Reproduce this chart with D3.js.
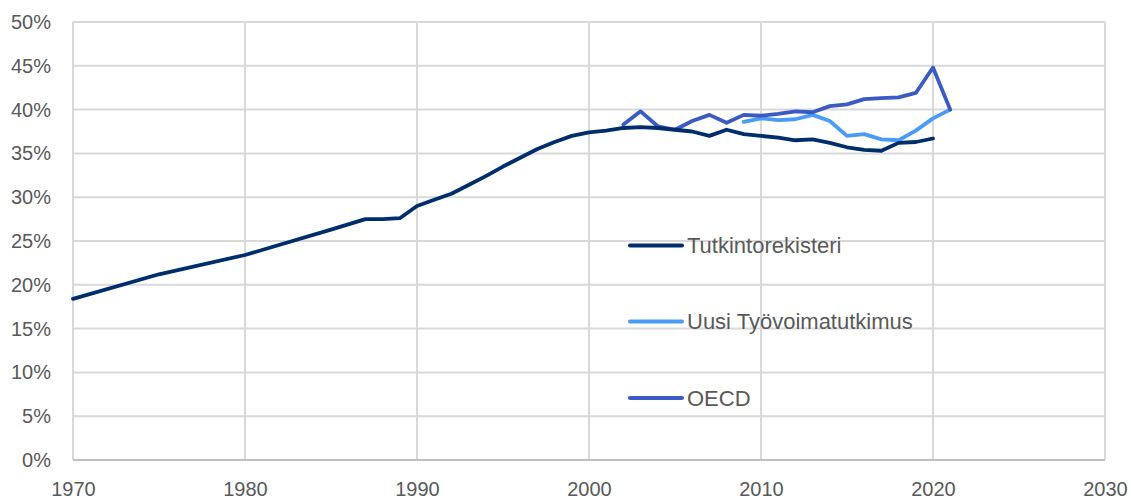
<!DOCTYPE html>
<html>
<head>
<meta charset="utf-8">
<script src="https://cdn.jsdelivr.net/npm/d3@7"></script>
<style>
  body { margin: 0; background: #fff; }
  svg text { font-family: "Liberation Sans", Arial, sans-serif; fill: #595959; }
</style>
</head>
<body>
<div id="chart"></div>
<script>
// data
let tutkYears = [1970, 1975, 1980, 1985, 1987, 1988, 1989, 1990, 1991, 1992, 1993, 1994, 1995, 1996, 1997, 1998, 1999,
    2000, 2001, 2002, 2003, 2004, 2005, 2006, 2007, 2008, 2009, 2010,
    2011, 2012, 2013, 2014, 2015, 2016, 2017, 2018, 2019, 2020];
let tutkValues = [18.4, 21.2, 23.4, 26.3, 27.5, 27.5, 27.6, 29.0, 29.7, 30.4, 31.4, 32.4, 33.5, 34.5, 35.5, 36.3, 37.0,
    37.4, 37.6, 37.9, 38.0, 37.9, 37.7, 37.5, 37.0, 37.7, 37.2, 37.0,
    36.8, 36.5, 36.6, 36.2, 35.7, 35.4, 35.3, 36.2, 36.3, 36.7];

let tyoYears = [2009, 2010, 2011, 2012, 2013, 2014, 2015, 2016, 2017, 2018, 2019, 2020, 2021];
let tyoValues = [38.6, 39.0, 38.8, 38.9, 39.4, 38.7, 37.0, 37.2, 36.6, 36.5, 37.6, 39.0, 40.0];

let oecdYears = [2002, 2003, 2004, 2005, 2006, 2007, 2008, 2009, 2010, 2011, 2012, 2013, 2014, 2015, 2016, 2017, 2018, 2019, 2020, 2021];
let oecdValues = [38.3, 39.8, 38.1, 37.7, 38.7, 39.4, 38.5, 39.4, 39.3, 39.5, 39.8, 39.7, 40.4, 40.6, 41.2, 41.3, 41.4, 41.9, 44.8, 40.0];

let xTicks = [1970, 1980, 1990, 2000, 2010, 2020, 2030];
let yTicks = [0, 5, 10, 15, 20, 25, 30, 35, 40, 45, 50];

let seriesNames = ["Tutkintorekisteri", "Uusi Työvoimatutkimus", "OECD"];
let seriesColors = ["#002D6B", "#4A9BF5", "#3A5BC4"];

function draw_chart() {
    let margin = {top: 22, right: 26, bottom: 39, left: 73},
        width = 1131 - margin.left - margin.right,
        height = 499 - margin.top - margin.bottom;

    let svg = d3.select("#chart")
        .append("svg")
        .attr("width", 1131)
        .attr("height", 499)
        .append("g")
        .attr("transform", "translate(" + margin.left + "," + margin.top + ")");

    let x = d3.scaleLinear().domain([1970, 2030]).range([0, width]);
    let y = d3.scaleLinear().domain([0, 50]).range([height, 0]);

    // gridlines
    svg.append("g")
        .selectAll("line.h")
        .data(yTicks)
        .enter()
        .append("line")
        .attr("x1", 0).attr("x2", width)
        .attr("y1", d => y(d)).attr("y2", d => y(d))
        .attr("stroke", "#D9D9D9")
        .attr("stroke-width", 2);

    svg.append("g")
        .selectAll("line.v")
        .data(xTicks)
        .enter()
        .append("line")
        .attr("x1", d => x(d)).attr("x2", d => x(d))
        .attr("y1", 0).attr("y2", height)
        .attr("stroke", "#D9D9D9")
        .attr("stroke-width", 2);

    // bottom axis line
    svg.append("line")
        .attr("x1", 0).attr("x2", width)
        .attr("y1", height).attr("y2", height)
        .attr("stroke", "#BFBFBF")
        .attr("stroke-width", 2);

    // Y axis labels
    let yAxis = svg.append("g")
        .call(d3.axisLeft(y).tickValues(yTicks).tickSize(0).tickPadding(22).tickFormat(d => d + "%"));
    yAxis.select(".domain").remove();
    yAxis.selectAll("text").attr("font-size", 20).style("font-family", "Liberation Sans, Arial, sans-serif");

    // X axis labels
    let xAxis = svg.append("g")
        .attr("transform", "translate(0," + height + ")")
        .call(d3.axisBottom(x).tickValues(xTicks).tickSize(0).tickPadding(22).tickFormat(d3.format("d")));
    xAxis.select(".domain").remove();
    xAxis.selectAll("text").attr("font-size", 20).style("font-family", "Liberation Sans, Arial, sans-serif");

    let line = d3.line()
        .x(d => x(d[0]))
        .y(d => y(d[1]));

    let series = [
        d3.zip(tutkYears, tutkValues),
        d3.zip(tyoYears, tyoValues),
        d3.zip(oecdYears, oecdValues)
    ];

    [1, 2, 0].forEach(function (i) {
        svg.append("path")
            .datum(series[i])
            .attr("fill", "none")
            .attr("stroke", seriesColors[i])
            .attr("stroke-width", 3.8)
            .attr("stroke-linejoin", "round")
            .attr("stroke-linecap", "round")
            .attr("d", line);
    });

    // legend
    let legendY = [245.5, 321.5, 398];
    let legend = d3.select("svg").append("g");
    seriesNames.forEach(function (name, i) {
        legend.append("line")
            .attr("x1", 630).attr("x2", 682)
            .attr("y1", legendY[i]).attr("y2", legendY[i])
            .attr("stroke", seriesColors[i])
            .attr("stroke-width", 4)
            .attr("stroke-linecap", "round");
        legend.append("text")
            .attr("x", 687)
            .attr("y", legendY[i])
            .attr("dy", "0.35em")
            .attr("font-size", 22)
            .text(name);
    });
}

draw_chart();
</script>
</body>
</html>
